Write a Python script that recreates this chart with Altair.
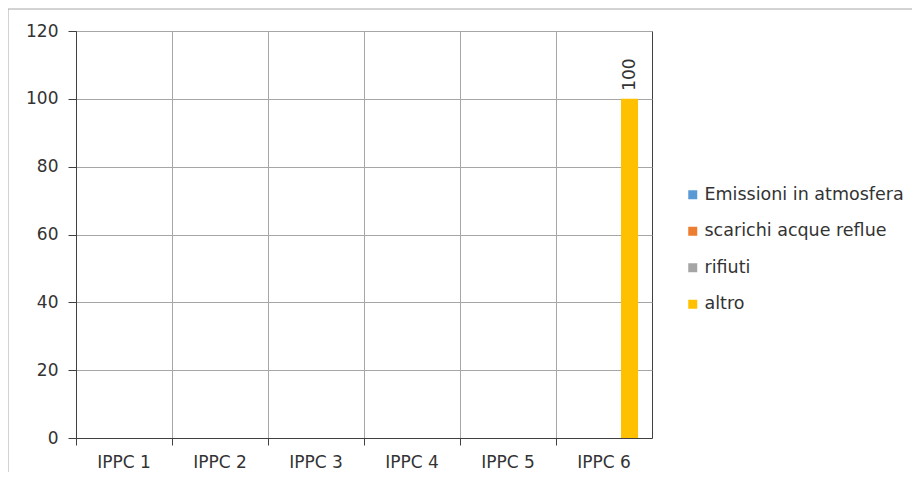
import altair as alt
import pandas as pd

categories = ["IPPC 1", "IPPC 2", "IPPC 3", "IPPC 4", "IPPC 5", "IPPC 6"]
series = ["Emissioni in atmosfera", "scarichi acque reflue", "rifiuti", "altro"]
emissioni = [0, 0, 0, 0, 0, 0]
scarichi = [0, 0, 0, 0, 0, 0]
rifiuti = [0, 0, 0, 0, 0, 0]
altro = [0, 0, 0, 0, 0, 100]
colors = ["#5B9BD5", "#ED7D31", "#A5A5A5", "#FFC000"]
y_ticks = [0, 20, 40, 60, 80, 100, 120]

rows = []
for s, vals in zip(series, [emissioni, scarichi, rifiuti, altro]):
    for c, v in zip(categories, vals):
        rows.append({"cat": c, "serie": s, "value": v})
df = pd.DataFrame(rows)

W, H = 576, 407
font = "DejaVu Sans"
txt = "#333333"
fs = 17

x = alt.X(
    "cat:N", sort=categories, title=None,
    scale=alt.Scale(paddingInner=0, paddingOuter=0),
    axis=alt.Axis(bandPosition=0, labelAngle=0, grid=True,
                  gridColor="#a6a6a6", tickColor="#404040", domainColor="#404040",
                  tickSize=7, labelPadding=22, labelBaseline="alphabetic",
                  labelFontSize=fs, labelColor=txt, labelFont=font),
)
y = alt.Y(
    "value:Q", title=None,
    scale=alt.Scale(domain=[0, 120], nice=False),
    axis=alt.Axis(values=y_ticks, grid=True, gridColor="#a6a6a6", tickColor="#404040",
                  domainColor="#404040", tickSize=8, labelPadding=10, labelFontSize=fs,
                  labelColor=txt, labelFont=font),
)
color = alt.Color(
    "serie:N", sort=series, title=None,
    scale=alt.Scale(domain=series, range=colors),
    legend=alt.Legend(orient="none", legendX=608, legendY=155, symbolType="square",
                      symbolSize=81, symbolStrokeWidth=0, labelFontSize=17.5,
                      labelFont=font, labelColor=txt, rowPadding=17.5, labelOffset=3,
                      labelLimit=300),
)

base = alt.Chart(df)
bars = base.mark_bar().encode(
    x=x, y=y, color=color,
    xOffset=alt.XOffset("serie:N", sort=series,
                        scale=alt.Scale(paddingInner=0, paddingOuter=0.82)),
)
labels = base.transform_filter("datum.value > 0").mark_text(
    angle=270, align="left", baseline="middle", dx=8, fontSize=fs, font=font, color=txt
).encode(
    x=alt.X("cat:N", sort=categories),
    y="value:Q",
    xOffset=alt.XOffset("serie:N", sort=series),
    text="value:Q",
)
border = alt.Chart(pd.DataFrame({"a": [0]})).mark_rect(
    fill="transparent", stroke="#a6a6a6", strokeWidth=1
).encode(x=alt.value(-68), x2=alt.value(900), y=alt.value(-22), y2=alt.value(500))

chart = alt.layer(border, bars, labels).properties(
    width=W, height=H,
    padding={"left": 68, "top": 23, "right": 260, "bottom": 34},
    autosize="none",
).configure_view(stroke="#404040", strokeWidth=1)

chart.save("out.html", embed_options={"renderer": "svg", "actions": False})
